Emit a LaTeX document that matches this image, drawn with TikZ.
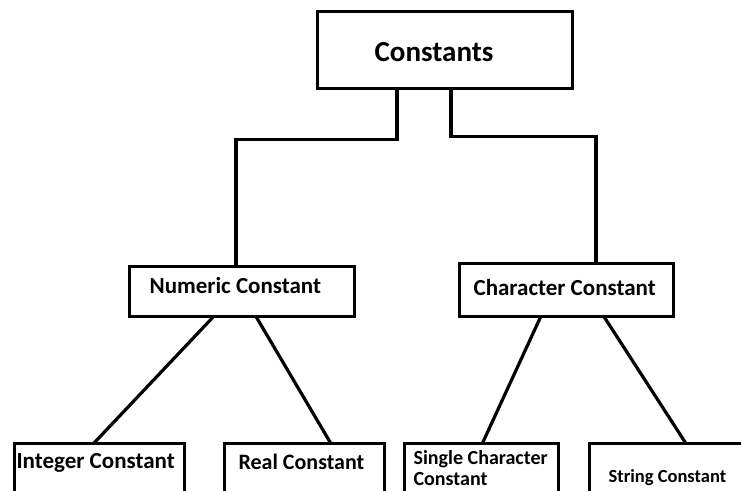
\documentclass[tikz,border=0pt]{standalone}
\usepackage{fontspec}
\setmainfont{Carlito}
\begin{document}
\begin{tikzpicture}[x=1pt,y=-1pt,
  line width=3.2pt,
  box/.style={draw=black, line width=3.2pt, inner sep=0pt, anchor=north west},
  lbl/.style={inner sep=0pt, anchor=base west, font=\bfseries},
  link/.style={draw=black, line width=3.2pt, line cap=rect}]
\useasboundingbox (0,0) rectangle (741,490);
\clip (0,0) rectangle (741,490);
\fill[white] (0,0) rectangle (741,490);

% boxes
\node[box, minimum width=255pt, minimum height=77pt] (cbox)  at (316,10)  {};
\node[box, minimum width=225pt, minimum height=50pt] (nbox)  at (128,265) {};
\node[box, minimum width=214pt, minimum height=53pt] (chbox) at (458,262) {};
\node[box, minimum width=170pt, minimum height=62pt] (ibox)  at (13,442)  {};
\node[box, minimum width=160pt, minimum height=62pt] (rbox)  at (223,442) {};
\node[box, minimum width=154pt, minimum height=62pt] (sbox)  at (403,442) {};
\node[box, minimum width=200pt, minimum height=62pt] (stbox) at (588,442) {};

% labels
\node[lbl, font=\bfseries\fontsize{29}{34}\selectfont] (tconst) at (373,61) {Constants};
\node[lbl, font=\bfseries\fontsize{23}{27}\selectfont] (tnum)   at (148,293) {Numeric Constant};
\node[lbl, font=\bfseries\fontsize{23}{27}\selectfont] (tchar)  at (472,295) {Character Constant};
\node[lbl, font=\bfseries\fontsize{23}{27}\selectfont] (tint)   at (15,468) {Integer Constant};
\node[lbl, font=\bfseries\fontsize{22}{26}\selectfont] (treal)  at (237,469) {Real Constant};
\node[lbl, font=\bfseries\fontsize{20}{23}\selectfont] (tsing1) at (412,464) {Single Character};
\node[lbl, font=\bfseries\fontsize{20}{23}\selectfont] (tsing2) at (412,485) {Constant};
\node[lbl, font=\bfseries\fontsize{18.5}{22}\selectfont] (tstr) at (607,482) {String Constant};

% connectors
\draw[link] ([xshift=81pt]cbox.south west) -- ++(0,49) -| ([xshift=108pt]nbox.north west);
\draw[link] ([xshift=135pt]cbox.south west) -- ++(0,46) -| ([xshift=138pt]chbox.north west);
\draw[link] ([xshift=84pt]nbox.south west) -- ([xshift=82pt]ibox.north west);
\draw[link] ([xshift=129pt]nbox.south west) -- ([xshift=107pt]rbox.north west);
\draw[link] ([xshift=82pt]chbox.south west) -- ([xshift=80pt]sbox.north west);
\draw[link] ([xshift=147pt]chbox.south west) -- ([xshift=97pt]stbox.north west);
\end{tikzpicture}
\end{document}
